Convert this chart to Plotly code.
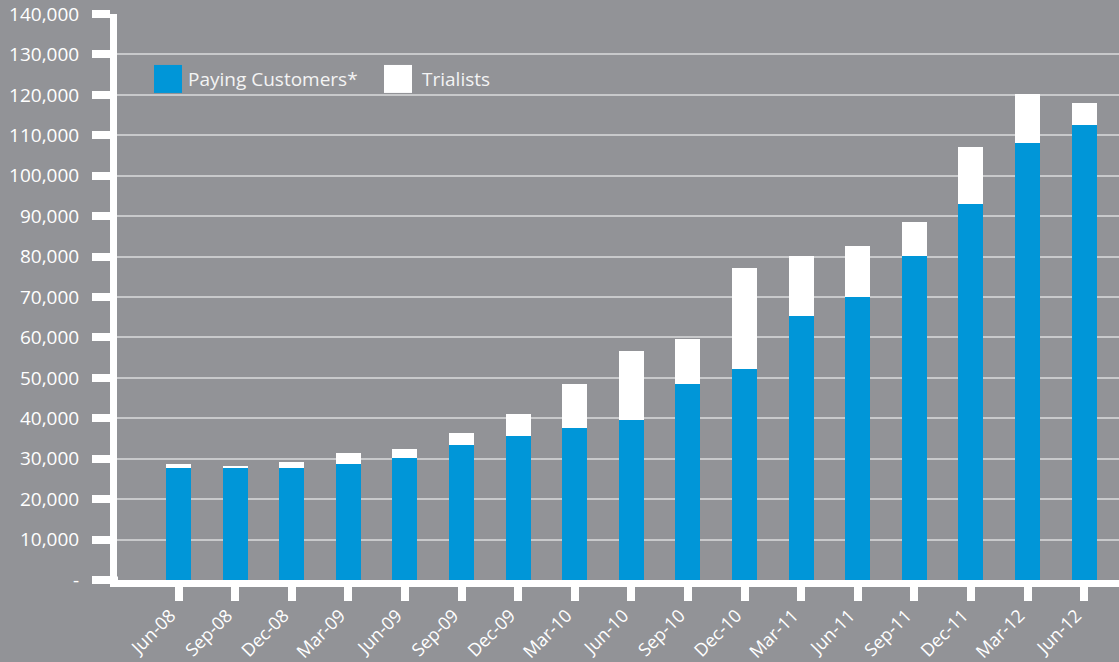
import plotly.graph_objects as go

categories = ["Jun-08", "Sep-08", "Dec-08", "Mar-09", "Jun-09", "Sep-09", "Dec-09",
              "Mar-10", "Jun-10", "Sep-10", "Dec-10", "Mar-11", "Jun-11", "Sep-11",
              "Dec-11", "Mar-12", "Jun-12"]
paying = [27600, 27600, 27600, 28800, 30300, 33300, 35500, 37700, 39700, 48600,
          52100, 65200, 69900, 80100, 92900, 108000, 112500]
totals = [28600, 28300, 29100, 31300, 32500, 36300, 41000, 48600, 56600, 59500,
          77100, 80100, 82500, 88500, 107100, 120300, 117900]
trialists = [t - p for t, p in zip(totals, paying)]

ytick_vals = [0, 10000, 20000, 30000, 40000, 50000, 60000, 70000, 80000, 90000,
              100000, 110000, 120000, 130000, 140000]
ytick_text = ["-", "10,000", "20,000", "30,000", "40,000", "50,000", "60,000", "70,000",
              "80,000", "90,000", "100,000", "110,000", "120,000", "130,000", "140,000"]

BG = "#929397"
BLUE = "#0096d8"
FONT = "Open Sans"

W, H = 1119, 662
L, T = 117, 14
B = H - 580.5
pw = W - L
ph = H - T - B

def px(x):
    return (x - L) / pw

def py(y):
    return (H - B - y) / ph

fig = go.Figure()
fig.add_trace(go.Bar(x=categories, y=paying, name="Paying Customers*",
                     marker=dict(color=BLUE, line=dict(width=0)), width=0.44))
fig.add_trace(go.Bar(x=categories, y=trialists, name="Trialists",
                     marker=dict(color="#ffffff", line=dict(width=0)), width=0.44))

step = 56.6
left_idx = -(178.5 - L) / step
right_idx = left_idx + pw / step

fig.update_layout(
    width=W, height=H,
    barmode="stack",
    showlegend=False,
    paper_bgcolor=BG, plot_bgcolor=BG,
    margin=dict(l=L, r=0, t=T, b=B, pad=0),
    font=dict(family=FONT, color="#ffffff"),
    xaxis=dict(
        type="category", range=[left_idx, right_idx], automargin=False,
        showline=True, linecolor="#ffffff", linewidth=7,
        ticks="outside", ticklen=14, tickwidth=8, tickcolor="#ffffff",
        tickangle=-45, tickfont=dict(size=18, color="#ffffff", family=FONT),
        ticklabelstandoff=-3, ticklabelshift=-8,
        showgrid=False, zeroline=False,
    ),
    yaxis=dict(
        range=[0, 140000], automargin=False,
        tickvals=ytick_vals, ticktext=ytick_text,
        showline=True, linecolor="#ffffff", linewidth=7,
        ticks="outside", ticklen=18, tickwidth=8, tickcolor="#ffffff",
        tickfont=dict(size=19, color="#ffffff", family=FONT),
        ticklabelstandoff=9,
        showgrid=True, gridcolor="#c8c9cb", gridwidth=1.5,
        zeroline=False,
    ),
)

# extension of the x axis line to the left of the y axis
fig.add_shape(type="line", xref="paper", yref="paper",
              x0=px(98), x1=px(118), y0=0, y1=0,
              line=dict(color="#ffffff", width=7), layer="above")

# custom legend
fig.add_shape(type="rect", xref="paper", yref="paper",
              x0=px(154), x1=px(182), y0=py(93), y1=py(65),
              fillcolor=BLUE, line=dict(width=0))
fig.add_shape(type="rect", xref="paper", yref="paper",
              x0=px(384), x1=px(412), y0=py(93), y1=py(65),
              fillcolor="#ffffff", line=dict(width=0))
fig.add_annotation(xref="paper", yref="paper", x=px(186), y=py(79),
                   xanchor="left", yanchor="middle", showarrow=False,
                   text="Paying Customers*", font=dict(size=19, color="#f4f4f4", family=FONT))
fig.add_annotation(xref="paper", yref="paper", x=px(420), y=py(79),
                   xanchor="left", yanchor="middle", showarrow=False,
                   text="Trialists", font=dict(size=19, color="#f4f4f4", family=FONT))

fig.write_html("out.html")
